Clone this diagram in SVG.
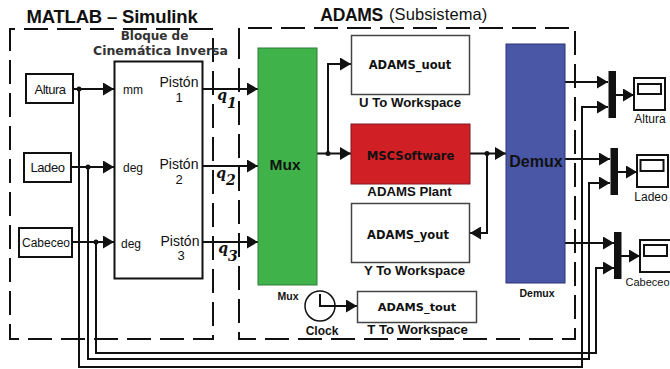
<svg xmlns="http://www.w3.org/2000/svg" width="670" height="369" viewBox="0 0 670 369">
<style>
text{font-family:"Liberation Sans",Arial,sans-serif;fill:#111;text-anchor:middle}
.b{font-weight:bold}
.m{font-family:"DejaVu Sans",sans-serif;font-weight:bold}
.box{fill:#fff;stroke:#111;stroke-width:2}
.gbox{fill:#fff;stroke:#444;stroke-width:1.5}
.dash{fill:none;stroke:#111;stroke-width:2;stroke-dasharray:24 9}
.w{fill:none;stroke:#111;stroke-width:2}
.q{font-family:"DejaVu Serif",serif;font-weight:bold;font-style:italic;font-size:14px}
.wl{font-size:13.200px;font-weight:bold}
</style>
<defs>
<marker id="a" markerUnits="userSpaceOnUse" markerWidth="12" markerHeight="13" refX="11" refY="6.500" orient="auto"><path d="M0 0L11 6.500L0 13Z" fill="#111"/></marker>
</defs>
<rect width="670" height="369" fill="#fff"/>
<g id="frames">
<path class="dash" d="M10 48V29H213V339H10V48"/>
<path class="dash" d="M239 52V28H575V339H239V52"/>
<text x="112" y="23" class="b" font-size="18.500" style="letter-spacing:-.2px">MATLAB – Simulink</text>
<text x="383" y="21" class="b" font-size="17.500" style="text-anchor:end;letter-spacing:-.3px">ADAMS</text>
<text x="389" y="20" font-size="16.500" style="text-anchor:start;letter-spacing:.1px">(Subsistema)</text>
</g>
<g id="connectors">
<path class="w" marker-end="url(#a)" d="M73 89H114"/>
<path class="w" marker-end="url(#a)" d="M71 167H114"/>
<path class="w" marker-end="url(#a)" d="M72 242H114"/>
<path class="w" marker-end="url(#a)" d="M203 89H258"/>
<path class="w" marker-end="url(#a)" d="M203 166H258"/>
<path class="w" marker-end="url(#a)" d="M203 242H258"/>
<path class="w" marker-end="url(#a)" d="M79 89V367H582V107H608"/>
<path class="w" marker-end="url(#a)" d="M88 167V359H589V183H610"/>
<path class="w" marker-end="url(#a)" d="M96 242V353H596V268H614"/>
<path class="w" marker-end="url(#a)" d="M317 153.500H351"/>
<path class="w" marker-end="url(#a)" d="M328 153.500V64H351"/>
<path class="w" marker-end="url(#a)" d="M470 153.500H506"/>
<path class="w" marker-end="url(#a)" d="M487 153.500V233H470"/>
<path class="w" marker-end="url(#a)" d="M565 82H608"/>
<path class="w" marker-end="url(#a)" d="M565 159H610"/>
<path class="w" marker-end="url(#a)" d="M565 243H614"/>
<path class="w" marker-end="url(#a)" d="M616 95H634"/>
<path class="w" marker-end="url(#a)" d="M618 172H637"/>
<path class="w" marker-end="url(#a)" d="M621 256H640"/>
<path class="w" marker-end="url(#a)" d="M335 306H357"/>
<g fill="#111"><circle cx="79" cy="89" r="2.500"/><circle cx="88" cy="167" r="2.500"/><circle cx="96" cy="242" r="2.500"/><circle cx="328" cy="153.500" r="2.500"/><circle cx="487" cy="153.500" r="2.500"/></g>
</g>
<g id="altura"><rect class="box" x="26" y="74" width="47" height="29"/><text x="50" y="94" font-size="13" style="letter-spacing:-.5px">Altura</text></g>
<g id="ladeo"><rect class="box" x="24" y="153" width="47" height="29"/><text x="47.500" y="172" font-size="13" style="letter-spacing:-.4px">Ladeo</text></g>
<g id="cabeceo"><rect class="box" x="19" y="228" width="53" height="29"/><text x="46" y="247" font-size="12">Cabeceo</text></g>
<g id="cinematica">
<rect class="box" x="114.500" y="61.500" width="88" height="217"/>
<text x="154.500" y="40" class="m" font-size="12" style="fill:#333">Bloque de</text>
<text x="160.500" y="55" class="m" font-size="12.500" style="fill:#333">Cinemática Inversa</text>
<text x="133" y="94" font-size="12">mm</text>
<text x="133" y="172" font-size="12">deg</text>
<text x="131" y="248" font-size="12">deg</text>
<text x="179" y="87" font-size="14">Pistón</text><text x="179" y="102" font-size="13">1</text>
<text x="179" y="169" font-size="14">Pistón</text><text x="179" y="184" font-size="13">2</text>
<text x="180" y="246" font-size="14">Pistón</text><text x="181" y="260" font-size="13">3</text>
</g>
<g id="q-labels">
<text x="227" y="100" class="q">q<tspan dy="8">1</tspan></text>
<text x="226" y="178" class="q">q<tspan dy="7">2</tspan></text>
<text x="228" y="253" class="q">q<tspan dy="8">3</tspan></text>
</g>
<g id="mux"><rect x="258" y="48" width="59" height="237" fill="#3fb34a" stroke="#2f7d38"/><text x="285" y="170" class="b" font-size="15.500">Mux</text><text x="288" y="300" class="b" font-size="10.500">Mux</text></g>
<g id="u-workspace"><rect class="gbox" x="351.500" y="35.500" width="118" height="59"/><text x="410" y="69" class="m" font-size="11.500">ADAMS_uout</text><text x="410" y="107" class="wl">U To Workspace</text></g>
<g id="plant"><rect x="351" y="124" width="119" height="60" fill="#d11f26" stroke="#7a1a1e"/><text x="410.500" y="160" class="m" font-size="11.600">MSCSoftware</text><text x="409.500" y="196" class="wl">ADAMS Plant</text></g>
<g id="y-workspace"><rect class="gbox" x="351.500" y="203.500" width="118" height="59"/><text x="408" y="239" class="m" font-size="11.500">ADAMS_yout</text><text x="414.500" y="275" class="wl">Y To Workspace</text></g>
<g id="clock"><circle cx="320" cy="306" r="15" fill="#fff" stroke="#111" stroke-width="1.500"/><path class="w" d="M320 294V306H335"/><text x="322" y="335" class="b" font-size="12">Clock</text></g>
<g id="t-workspace"><rect class="gbox" x="357.500" y="291.500" width="119" height="31"/><text x="417" y="311" class="m" font-size="11.300">ADAMS_tout</text><text x="417.500" y="334" class="wl">T To Workspace</text></g>
<g id="demux"><rect x="506" y="44" width="59" height="239" fill="#4a56a6" stroke="#2b3475"/><text x="536" y="167" class="b" font-size="16">Demux</text><text x="537" y="297" class="b" font-size="10.500">Demux</text></g>
<g id="mux-altura"><rect x="608.500" y="71" width="7.500" height="47" fill="#111"/></g>
<g id="mux-ladeo"><rect x="610.500" y="148" width="7.500" height="47" fill="#111"/></g>
<g id="mux-cabeceo"><rect x="614" y="232" width="7.500" height="47" fill="#111"/></g>
<g id="scope-altura"><rect class="box" x="634" y="78" width="31" height="32"/><rect class="box" x="638" y="84" width="23" height="10"/><text x="650" y="123" font-size="12">Altura</text></g>
<g id="scope-ladeo"><rect class="box" x="637" y="155" width="31" height="32"/><rect class="box" x="640.500" y="160" width="23" height="11"/><text x="651" y="201" font-size="12">Ladeo</text></g>
<g id="scope-cabeceo"><rect class="box" x="640" y="240" width="31" height="32"/><rect class="box" x="644" y="245" width="23" height="11"/><text x="647.500" y="286" font-size="11">Cabeceo</text></g>
</svg>
